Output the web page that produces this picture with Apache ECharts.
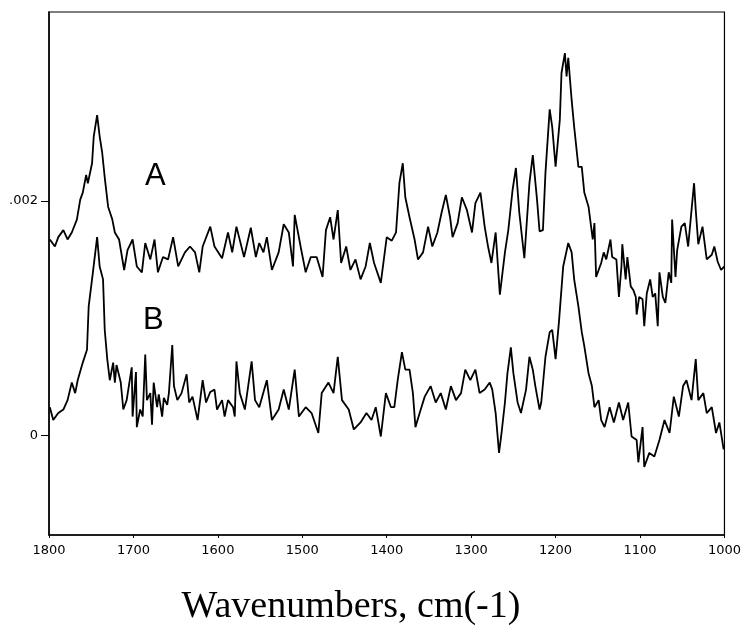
<!DOCTYPE html>
<html>
<head>
<meta charset="utf-8">
<script src="https://cdn.jsdelivr.net/npm/echarts@6/dist/echarts.min.js"></script>
<style>
html,body{margin:0;padding:0;background:#fff;}
#chart{width:744px;height:628px;}
</style>
</head>
<body>
<div id="chart"></div>
<script>
// Spectrum A: wavenumbers (cm-1) and absorbance in units of 1e-3
var waveA = [1799,1793,1789,1783,1778,1773,1767,1763,1760,1756,1754,1749,1747,1743,1740,1737,1734,1730,1725,1722,1717,1711,1707,1701,1696,1690,1686,1680,1675,1671,1665,1659,1653,1647,1639,1633,1627,1622,1618,1609,1604,1595,1588,1583,1578,1569,1561,1555,1551,1546,1542,1536,1528,1522,1516,1511,1509,1502,1496,1490,1483,1476,1472,1467,1463,1458,1454,1448,1443,1437,1431,1425,1420,1415,1407,1400,1394,1389,1385,1381,1378,1373,1367,1363,1357,1351,1346,1340,1335,1330,1325,1322,1316,1311,1305,1299,1295,1289,1284,1280,1276,1271,1266,1260,1256,1251,1247,1243,1237,1231,1227,1222,1219,1215,1212,1207,1204,1200,1195,1193,1189,1187,1185,1181,1178,1173,1169,1166,1161,1156,1154,1152,1146,1143,1140,1135,1133,1128,1125,1122,1121,1117,1115,1111,1108,1105,1104,1101,1097,1095,1092,1088,1085,1082,1079,1077,1073,1070,1066,1063,1062,1058,1056,1051,1047,1043,1039,1036,1034,1031,1026,1021,1015,1012,1008,1004,1000];
var absA = [1.67,1.61,1.69,1.75,1.67,1.73,1.84,2.01,2.07,2.22,2.15,2.32,2.55,2.73,2.55,2.41,2.20,1.95,1.84,1.73,1.67,1.41,1.58,1.67,1.44,1.39,1.64,1.50,1.67,1.39,1.52,1.50,1.69,1.44,1.56,1.61,1.56,1.39,1.61,1.78,1.61,1.51,1.73,1.56,1.78,1.52,1.77,1.52,1.64,1.56,1.69,1.41,1.56,1.80,1.73,1.44,1.88,1.61,1.39,1.52,1.52,1.35,1.75,1.86,1.67,1.92,1.47,1.61,1.41,1.50,1.33,1.44,1.64,1.47,1.30,1.69,1.66,1.73,2.15,2.32,2.03,1.86,1.67,1.50,1.56,1.78,1.61,1.73,1.90,2.05,1.86,1.69,1.81,2.03,1.92,1.73,1.98,2.07,1.78,1.61,1.47,1.73,1.20,1.56,1.75,2.09,2.28,1.90,1.51,2.15,2.39,2.01,1.74,1.75,2.24,2.78,2.63,2.29,2.69,3.09,3.26,3.06,3.22,2.86,2.63,2.29,2.29,2.07,1.95,1.67,1.81,1.35,1.47,1.56,1.50,1.67,1.52,1.50,1.18,1.44,1.63,1.33,1.52,1.27,1.24,1.18,1.03,1.18,1.16,0.93,1.21,1.33,1.18,1.21,0.93,1.39,1.18,1.13,1.39,1.30,1.84,1.35,1.58,1.78,1.81,1.61,1.92,2.15,1.92,1.63,1.78,1.50,1.54,1.61,1.48,1.41,1.44];

// Spectrum B: wavenumbers (cm-1) and absorbance in units of 1e-3
var waveB = [1799,1795,1789,1783,1778,1773,1769,1766,1760,1755,1753,1748,1743,1740,1736,1734,1731,1728,1724,1722,1720,1715,1712,1708,1702,1701,1697,1696,1692,1689,1686,1684,1680,1678,1676,1672,1670,1666,1664,1660,1658,1654,1652,1648,1643,1637,1634,1630,1624,1618,1614,1609,1604,1601,1595,1592,1588,1582,1580,1578,1574,1568,1560,1556,1551,1542,1536,1528,1522,1516,1509,1504,1496,1489,1481,1477,1469,1463,1458,1453,1445,1439,1431,1424,1418,1413,1407,1401,1395,1391,1387,1382,1378,1373,1369,1366,1361,1355,1348,1342,1336,1330,1324,1318,1312,1307,1301,1295,1290,1284,1278,1275,1271,1267,1264,1260,1257,1253,1250,1245,1241,1235,1231,1227,1224,1219,1217,1212,1207,1204,1200,1196,1191,1185,1181,1178,1173,1169,1166,1161,1157,1154,1149,1146,1142,1136,1131,1125,1120,1114,1110,1104,1102,1097,1095,1089,1083,1077,1071,1065,1060,1054,1049,1045,1039,1034,1031,1025,1021,1015,1010,1006,1001];
var absB = [0.24,0.13,0.19,0.22,0.30,0.45,0.36,0.47,0.62,0.73,1.10,1.39,1.69,1.44,1.33,0.90,0.65,0.47,0.62,0.45,0.60,0.45,0.22,0.30,0.58,0.16,0.54,0.07,0.22,0.16,0.69,0.30,0.36,0.09,0.45,0.24,0.35,0.16,0.32,0.26,0.36,0.77,0.42,0.30,0.36,0.52,0.28,0.33,0.13,0.47,0.28,0.37,0.39,0.22,0.30,0.16,0.30,0.24,0.16,0.63,0.36,0.22,0.63,0.30,0.24,0.47,0.13,0.22,0.39,0.22,0.56,0.16,0.24,0.19,0.02,0.36,0.45,0.36,0.67,0.30,0.22,0.05,0.11,0.19,0.13,0.24,-0.01,0.36,0.24,0.24,0.47,0.71,0.56,0.56,0.36,0.07,0.19,0.33,0.42,0.28,0.36,0.22,0.42,0.30,0.36,0.56,0.47,0.56,0.36,0.39,0.45,0.39,0.19,-0.15,0.02,0.28,0.53,0.75,0.53,0.28,0.19,0.39,0.67,0.56,0.42,0.22,0.28,0.67,0.88,0.90,0.65,0.97,1.44,1.64,1.56,1.33,1.10,0.88,0.76,0.53,0.42,0.24,0.30,0.13,0.07,0.24,0.11,0.28,0.13,0.28,-0.01,-0.04,-0.23,0.07,-0.27,-0.15,-0.18,-0.04,0.13,0.02,0.33,0.16,0.42,0.47,0.30,0.65,0.30,0.36,0.19,0.24,0.02,0.11,-0.12];

var xTicks = [1800,1700,1600,1500,1400,1300,1200,1100,1000];
var yTicks = [0, 0.002];
var yTickLabels = ['0', '.002'];
var traceLabels = ['A', 'B'];
var xTitle = 'Wavenumbers, cm(-1)';

function pairs(w, a) {
  var out = [];
  for (var i = 0; i < w.length; i++) out.push([w[i], a[i] / 1000]);
  return out;
}

var chart = echarts.init(document.getElementById('chart'), null, {renderer: 'canvas'});
var option = {
  animation: false,
  backgroundColor: '#fff',
  grid: {left: 49, right: 19, top: 12, bottom: 93, show: true, borderColor: '#000', borderWidth: 1.2},
  xAxis: {
    type: 'value', inverse: true, min: 1000, max: 1800, interval: 100,
    axisLine: {onZero: false, lineStyle: {color: '#000', width: 1.5}},
    axisTick: {show: true, length: 3, lineStyle: {color: '#000'}, customValues: xTicks},
    axisLabel: {color: '#000', fontFamily: 'DejaVu Sans', fontSize: 13, margin: 9, customValues: xTicks,
      formatter: function (v) { return String(v); }},
    splitLine: {show: false}
  },
  yAxis: {
    type: 'value', min: -0.00085, max: 0.00361,
    axisLine: {show: true, onZero: false, lineStyle: {color: '#000', width: 1.5}},
    axisTick: {show: true, length: 8, lineStyle: {color: '#000'}, customValues: yTicks},
    axisLabel: {color: '#000', fontFamily: 'DejaVu Sans', fontSize: 13, margin: 11, customValues: yTicks,
      formatter: function (v) { var i = yTicks.indexOf(v); return i >= 0 ? yTickLabels[i] : ''; }},
    splitLine: {show: false}
  },
  series: [
    {type: 'line', data: pairs(waveA, absA), showSymbol: false, lineStyle: {color: '#000', width: 1.8}, z: 3},
    {type: 'line', data: pairs(waveB, absB), showSymbol: false, lineStyle: {color: '#000', width: 1.8}, z: 3}
  ],
  graphic: [
    {type: 'text', left: 145, top: 161, style: {text: traceLabels[0], font: '31px "Liberation Sans"', fill: '#000'}},
    {type: 'text', left: 143, top: 305, style: {text: traceLabels[1], font: '31px "Liberation Sans"', fill: '#000'}},
    {type: 'text', x: 351, y: 607, style: {text: xTitle, font: '38px "Liberation Serif"', fill: '#000', align: 'center', verticalAlign: 'middle'}}
  ]
};
chart.setOption(option);
</script>
</body>
</html>
